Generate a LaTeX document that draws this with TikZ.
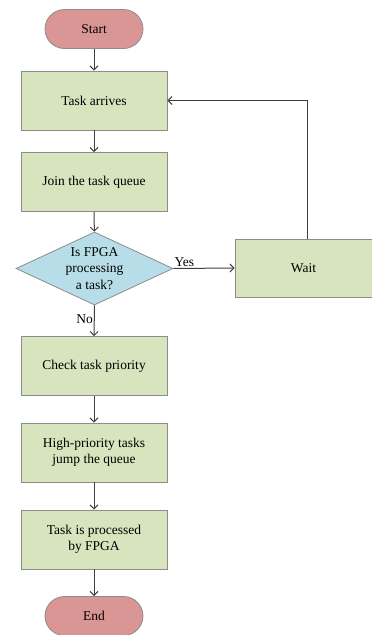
\documentclass[tikz,border=0pt]{standalone}
\usepackage{fontspec}
\setmainfont{Liberation Serif}
\usetikzlibrary{arrows.meta,shapes.geometric}
\definecolor{termfill}{HTML}{D99694}
\definecolor{stepfill}{HTML}{D7E4BD}
\definecolor{askfill}{HTML}{B7DEE8}
\definecolor{edgegray}{HTML}{8C8C8C}
\definecolor{linegray}{HTML}{404040}
\tikzset{
  x=1pt, y=-1pt,
  base/.style={draw=edgegray, line width=0.8pt, font=\fontsize{13.5}{16}\selectfont, align=center, inner sep=0pt},
  term/.style={base, fill=termfill, rounded corners=19.5pt, minimum width=98pt, minimum height=39pt},
  stepbox/.style={base, fill=stepfill, minimum width=146pt, minimum height=59pt},
  ask/.style={base, fill=askfill, diamond, aspect=2.15, minimum width=157pt, minimum height=73pt},
  flow/.style={draw=linegray, line width=1pt, -{Straight Barb[length=4pt,width=8pt]}},
  lbl/.style={font=\fontsize{13.5}{16}\selectfont, inner sep=1pt}
}
\begin{document}
\begin{tikzpicture}
\useasboundingbox (0,0) rectangle (372,635);

\node[term] (start) at (94,29) {Start};
\node[stepbox] (arrive) at (94,100.5) {Task arrives};
\node[stepbox] (join) at (94,182) {Join the task queue};
\node[ask] (dec) at (94.5,268.5) {};
\node[font=\fontsize{13.5}{16.5}\selectfont, align=center] (dectext) at (dec) {Is FPGA\\processing\\a task?};
\node[stepbox, minimum width=137pt, minimum height=58pt] (wait) at (303.5,268) {Wait};
\node[stepbox] (check) at (94,366) {Check task priority};
\node[stepbox] (high) at (94,452.5) {High-priority tasks\\jump the queue};
\node[stepbox] (proc) at (94,539.5) {Task is processed\\by FPGA};
\node[term] (end) at (94,616) {End};

\coordinate (waittop) at ([xshift=4pt]wait.north);
\coordinate (corner) at (waittop |- arrive.east);

\draw[flow] (start) -- (arrive);
\draw[flow] (arrive) -- (join);
\draw[flow] (join) -- (dec);
\draw[flow] (dec.east) -- node[lbl, above, pos=0.18] {Yes} (wait.west);
\draw[flow] (dec.south) -- node[lbl, left, pos=0.45] {No} (check.north);
\draw[flow] (check) -- (high);
\draw[flow] (high) -- (proc);
\draw[flow] (proc) -- (end);
\draw[flow] (waittop) -- (corner) -- (arrive.east);
\end{tikzpicture}
\end{document}
